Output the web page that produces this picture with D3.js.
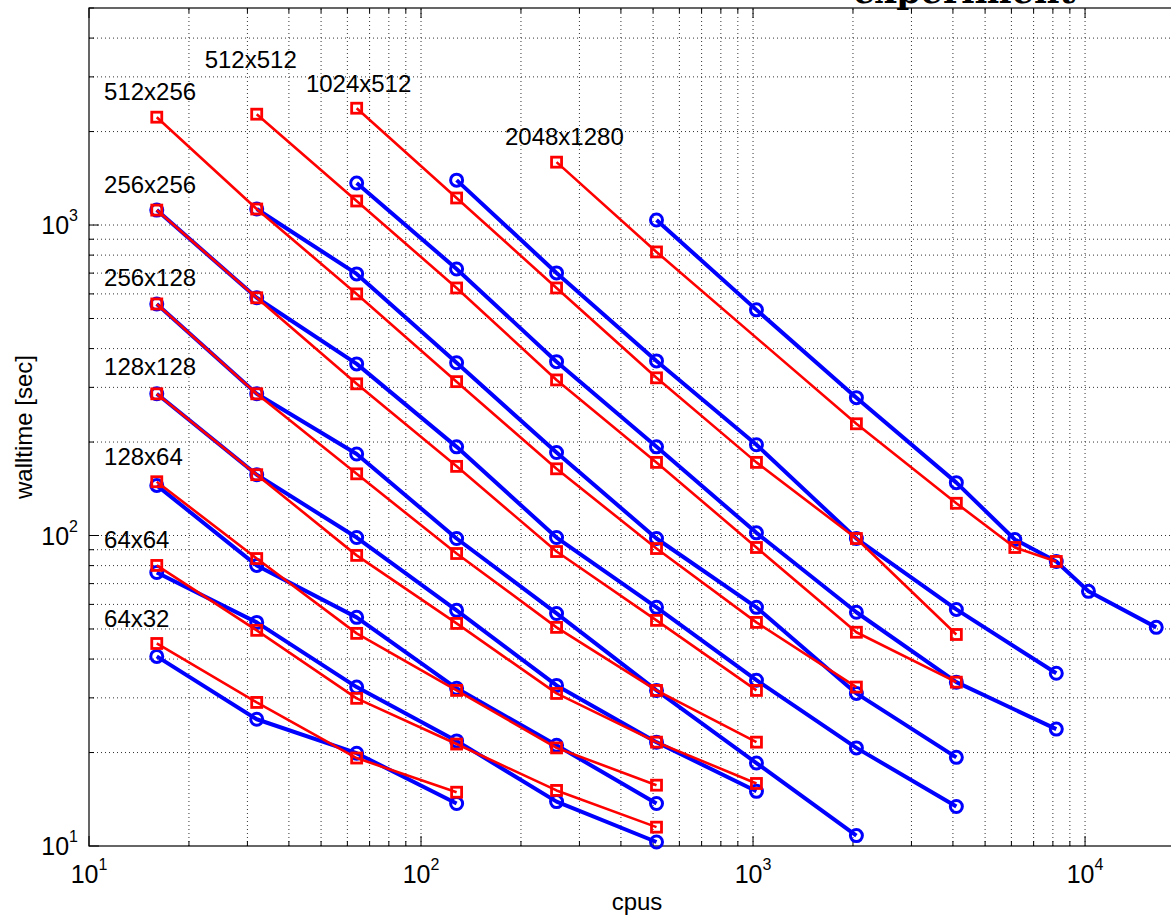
<!DOCTYPE html>
<html>
<head>
<meta charset="utf-8">
<script src="https://cdn.jsdelivr.net/npm/d3@7"></script>
<style>
    html, body { margin: 0; padding: 0; background: #fff; }
    svg { display: block; font-family: "Liberation Sans", Arial, sans-serif; }
</style>
</head>
<body>
<svg id="chart" width="1171" height="918"></svg>
<script>
// Problem sizes, each run twice: blue (circles) and red (squares)
const sizes = ['64x32', '64x64', '128x64', '128x128', '256x128', '256x256',
               '512x256', '512x512', '1024x512', '2048x1280'];

const blueCpus = [
    [16, 32, 64, 128],
    [16, 32, 64, 128, 256, 512],
    [16, 32, 64, 128, 256, 512],
    [16, 32, 64, 128, 256, 512, 1024],
    [16, 32, 64, 128, 256, 512, 1024, 2048],
    [16, 32, 64, 128, 256, 512, 1024, 2048, 4096],
    [32, 64, 128, 256, 512, 1024, 2048, 4096],
    [64, 128, 256, 512, 1024, 2048, 4096, 8192],
    [128, 256, 512, 1024, 2048, 4096, 8192],
    [512, 1024, 2048, 4096, 6144, 8192, 10240, 16384]
];
const blueTime = [
    [40.8, 25.6, 19.9, 13.7],
    [76.0, 52.5, 32.5, 21.8, 13.9, 10.3],
    [145, 80.1, 54.5, 32.2, 21.1, 13.7],
    [286, 157, 98.5, 57.4, 32.9, 21.6, 15.0],
    [557, 286, 183, 97.8, 56.1, 31.7, 18.5, 10.8],
    [1117, 583, 357, 193, 98.5, 58.7, 34.2, 20.7, 13.4],
    [1126, 696, 360, 185, 97.8, 58.7, 31.0, 19.3],
    [1365, 722, 363, 193, 102, 56.6, 33.7, 23.8],
    [1395, 701, 365, 196, 97.8, 57.8, 36.0],
    [1038, 533, 278, 148, 97.1, 82.5, 66.1, 50.6]
];

const redCpus = [
    [16, 32, 64, 128],
    [16, 32, 64, 128, 256, 512],
    [16, 32, 64, 128, 256, 512],
    [16, 32, 64, 128, 256, 512, 1024],
    [16, 32, 64, 128, 256, 512, 1024],
    [16, 32, 64, 128, 256, 512, 1024],
    [16, 32, 64, 128, 256, 512, 1024, 2048],
    [32, 64, 128, 256, 512, 1024, 2048, 4096],
    [64, 128, 256, 512, 1024, 2048, 4096],
    [256, 512, 2048, 4096, 6144, 8192]
];
const redTime = [
    [44.9, 29.0, 19.2, 14.9],
    [80.1, 49.5, 29.9, 21.3, 15.1, 11.5],
    [149, 84.3, 48.4, 31.7, 20.7, 15.7],
    [286, 157, 86.3, 52.1, 31.0, 21.6, 15.9],
    [557, 286, 158, 87.5, 50.6, 31.7, 21.6],
    [1117, 583, 308, 167, 88.8, 53.3, 31.7],
    [2225, 1126, 600, 313, 164, 90.8, 52.5, 32.5],
    [2275, 1195, 627, 317, 172, 91.5, 48.8, 33.7],
    [2378, 1222, 627, 322, 172, 97.8, 48.0],
    [1594, 819, 229, 127, 91.5, 82.5]
];

// Size labels, placed in data units (lower-left corner of the text)
const labelCpus = [11.1, 11.1, 11.1, 11.1, 11.1, 11.1, 11.1, 22.3, 45.0, 179];
const labelTime = [50.7, 91.1, 168.7, 328.8, 636, 1268, 2527, 3203, 2682, 1810];

// Decade tick exponents
const xTickExp = [1, 2, 3, 4];
const yTickExp = [1, 2, 3];

const margin = { top: 8, right: -14, bottom: 72, left: 89 };
const W = 1171, H = 918;

const svg = d3.select('#chart');

const x = d3.scaleLog().domain([10, 20000]).range([margin.left, W - margin.right]);
const y = d3.scaleLog().domain([10, 5000]).range([H - margin.bottom, margin.top]);

const [x0, x1] = x.range();
const [y0, y1] = y.range();   // y0 bottom, y1 top

// every k * 10^n inside a domain
function logSteps(lo, hi) {
    const out = [];
    for (let e = Math.floor(Math.log10(lo)); e <= Math.ceil(Math.log10(hi)); e++) {
        for (let k = 1; k < 10; k++) {
            const v = k * Math.pow(10, e);
            if (v >= lo && v <= hi) out.push(v);
        }
    }
    return out;
}
const xSteps = logSteps(10, 20000);
const ySteps = logSteps(10, 5000);
const isDecade = v => Math.abs(Math.log10(v) - Math.round(Math.log10(v))) < 1e-9;

// Dotted grid (major + minor, MATLAB style)
const grid = svg.append('g').attr('class', 'grid')
    .attr('stroke', '#333')
    .attr('stroke-width', 1)
    .attr('stroke-dasharray', '1 3');

grid.selectAll('.vgrid')
    .data(xSteps.filter(v => v > 10))
    .join('line')
    .attr('class', 'vgrid')
    .attr('x1', d => x(d)).attr('x2', d => x(d))
    .attr('y1', y0).attr('y2', y1);

grid.selectAll('.hgrid')
    .data(ySteps.filter(v => v > 10 && v < 5000))
    .join('line')
    .attr('class', 'hgrid')
    .attr('y1', d => y(d)).attr('y2', d => y(d))
    .attr('x1', x0).attr('x2', x1);

// Inside ticks on all four sides
const ticks = svg.append('g').attr('class', 'ticks')
    .attr('stroke', '#000')
    .attr('stroke-width', 1);

xSteps.forEach(v => {
    const len = isDecade(v) ? 10 : 5;
    ticks.append('line').attr('x1', x(v)).attr('x2', x(v)).attr('y1', y0).attr('y2', y0 - len);
    ticks.append('line').attr('x1', x(v)).attr('x2', x(v)).attr('y1', y1).attr('y2', y1 + len);
});
ySteps.forEach(v => {
    const len = isDecade(v) ? 10 : 5;
    ticks.append('line').attr('y1', y(v)).attr('y2', y(v)).attr('x1', x0).attr('x2', x0 + len);
    ticks.append('line').attr('y1', y(v)).attr('y2', y(v)).attr('x1', x1).attr('x2', x1 - len);
});

// Axes box
svg.append('rect')
    .attr('x', x0).attr('y', y1)
    .attr('width', x1 - x0).attr('height', y0 - y1)
    .attr('fill', 'none')
    .attr('stroke', '#000')
    .attr('stroke-width', 1.2);

// Tick labels: 10 with superscript exponent
function powerLabel(sel, exp) {
    sel.append('tspan').text('10');
    sel.append('tspan').attr('dy', -13).attr('font-size', 16).text(exp);
}

svg.append('g').selectAll('text')
    .data(xTickExp)
    .join('text')
    .attr('x', d => x(Math.pow(10, d)))
    .attr('y', y0 + 37)
    .attr('text-anchor', 'middle')
    .attr('font-size', 25)
    .attr('fill', '#000')
    .each(function(d) { powerLabel(d3.select(this), d); });

svg.append('g').selectAll('text')
    .data(yTickExp)
    .join('text')
    .attr('x', x0 - 11)
    .attr('y', d => y(Math.pow(10, d)) + 9)
    .attr('text-anchor', 'end')
    .attr('font-size', 25)
    .attr('fill', '#000')
    .each(function(d) { powerLabel(d3.select(this), d); });

// Axis titles
svg.append('text')
    .attr('x', (x0 + x1) / 2)
    .attr('y', 910)
    .attr('text-anchor', 'middle')
    .attr('font-size', 24)
    .text('cpus');

svg.append('text')
    .attr('transform', `translate(32,${(y0 + y1) / 2}) rotate(-90)`)
    .attr('text-anchor', 'middle')
    .attr('font-size', 24)
    .text('walltime [sec]');

// Title, cut off at the top edge of the picture
svg.append('text')
    .attr('x', 853)
    .attr('y', 3)
    .attr('font-family', '"DejaVu Serif", serif')
    .attr('font-weight', 'bold')
    .attr('font-size', 35)
    .text('experiment');

// Series
const line = d3.line()
    .x(d => x(d[0]))
    .y(d => y(d[1]));

const bluePts = blueCpus.map((c, i) => c.map((v, j) => [v, blueTime[i][j]]));
const redPts = redCpus.map((c, i) => c.map((v, j) => [v, redTime[i][j]]));

const blueG = svg.append('g').attr('class', 'blue');
blueG.selectAll('path')
    .data(bluePts)
    .join('path')
    .attr('d', line)
    .attr('fill', 'none')
    .attr('stroke', '#0000ff')
    .attr('stroke-width', 4)
    .attr('stroke-linejoin', 'round');
blueG.selectAll('circle')
    .data(bluePts.flat())
    .join('circle')
    .attr('cx', d => x(d[0]))
    .attr('cy', d => y(d[1]))
    .attr('r', 6)
    .attr('fill', 'none')
    .attr('stroke', '#0000ff')
    .attr('stroke-width', 3);

const sq = 10;
const redG = svg.append('g').attr('class', 'red');
redG.selectAll('path')
    .data(redPts)
    .join('path')
    .attr('d', line)
    .attr('fill', 'none')
    .attr('stroke', '#ff0000')
    .attr('stroke-width', 2.6)
    .attr('stroke-linejoin', 'round');
redG.selectAll('rect')
    .data(redPts.flat())
    .join('rect')
    .attr('x', d => x(d[0]) - sq / 2)
    .attr('y', d => y(d[1]) - sq / 2)
    .attr('width', sq)
    .attr('height', sq)
    .attr('fill', 'none')
    .attr('stroke', '#ff0000')
    .attr('stroke-width', 2.8);

// Size labels
svg.append('g').selectAll('text')
    .data(sizes)
    .join('text')
    .attr('x', (d, i) => x(labelCpus[i]))
    .attr('y', (d, i) => y(labelTime[i]))
    .attr('font-size', 24)
    .attr('fill', '#000')
    .text(d => d);
</script>
</body>
</html>
